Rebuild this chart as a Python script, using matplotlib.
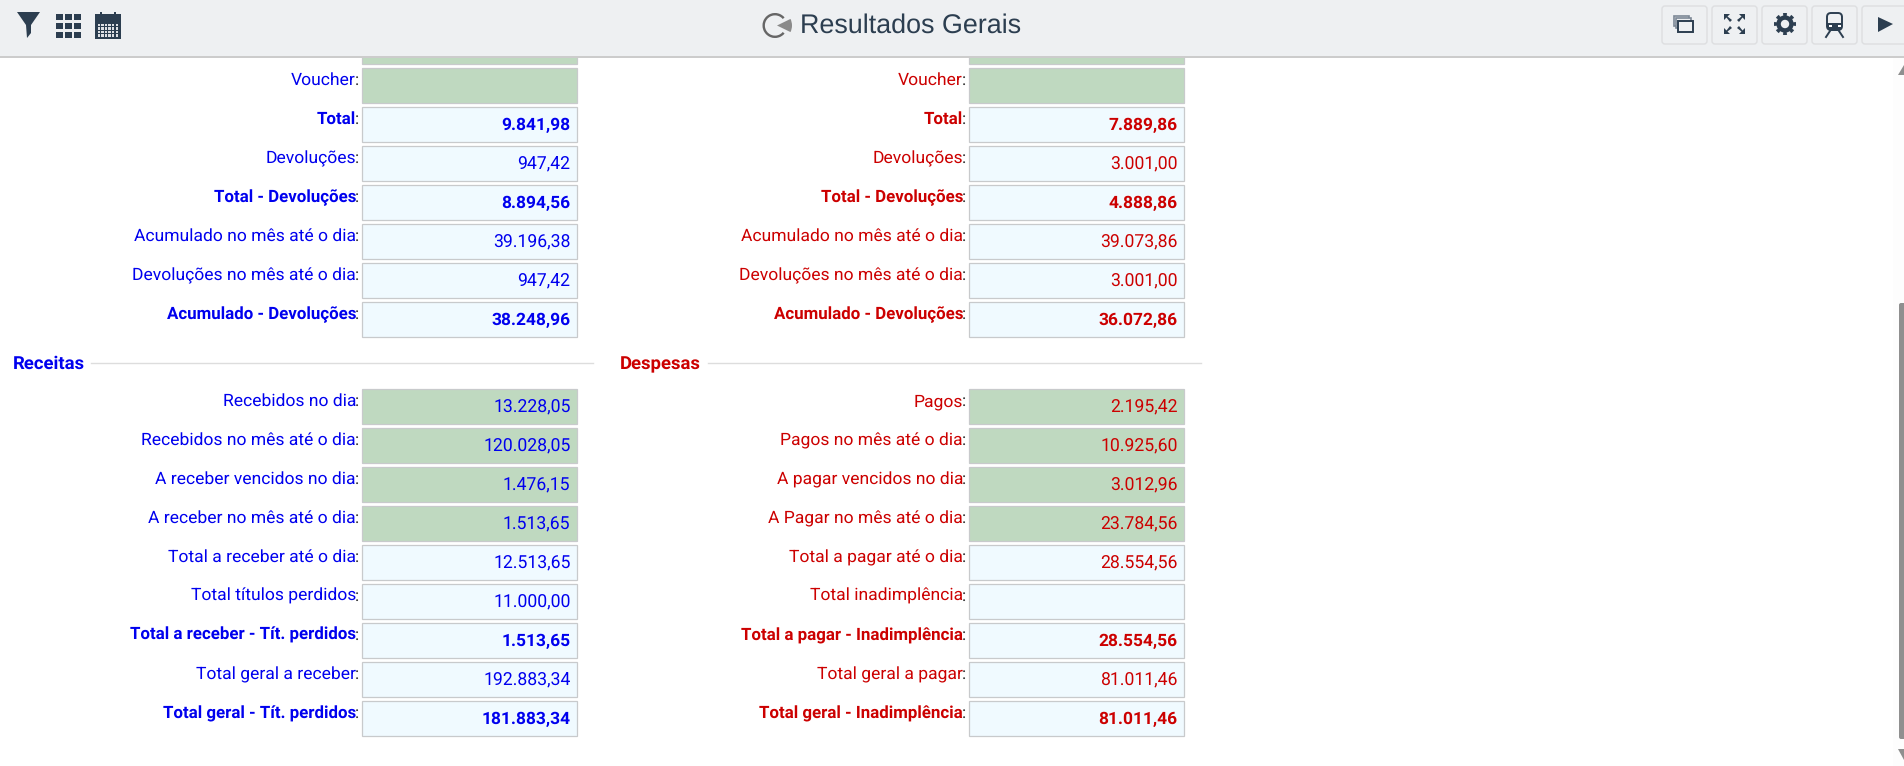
import matplotlib
matplotlib.use('Agg')
import matplotlib.pyplot as plt
from matplotlib.patches import Rectangle, Polygon, Wedge, FancyBboxPatch

plt.rcParams['font.family'] = ['Roboto', 'DejaVu Sans']
plt.rcParams['text.hinting'] = 'no_hinting'

top_labels = ['', 'Voucher', 'Total', 'Devoluções', 'Total - Devoluções',
              'Acumulado no mês até o dia', 'Devoluções no mês até o dia', 'Acumulado - Devoluções']
top_bold = [2, 4, 7]
top_green = [0, 1]
left_top = ['', '', '9.841,98', '947,42', '8.894,56', '39.196,38', '947,42', '38.248,96']
right_top = ['', '', '7.889,86', '3.001,00', '4.888,86', '39.073,86', '3.001,00', '36.072,86']

receitas_labels = ['Recebidos no dia', 'Recebidos no mês até o dia', 'A receber vencidos no dia',
                   'A receber no mês até o dia', 'Total a receber até o dia', 'Total títulos perdidos',
                   'Total a receber - Tít. perdidos', 'Total geral a receber', 'Total geral - Tít. perdidos']
receitas_values = ['13.228,05', '120.028,05', '1.476,15', '1.513,65', '12.513,65', '11.000,00',
                   '1.513,65', '192.883,34', '181.883,34']
despesas_labels = ['Pagos', 'Pagos no mês até o dia', 'A pagar vencidos no dia', 'A Pagar no mês até o dia',
                   'Total a pagar até o dia', 'Total inadimplência', 'Total a pagar - Inadimplência',
                   'Total geral a pagar', 'Total geral - Inadimplência']
despesas_values = ['2.195,42', '10.925,60', '3.012,96', '23.784,56', '28.554,56', '',
                   '28.554,56', '81.011,46', '81.011,46']
bottom_bold = [6, 8]
bottom_green = [0, 1, 2, 3]

BLUE = '#0000EE'
RED = '#CC0000'
DARK = '#2C3E50'
BAR = '#EEF0F2'

fig = plt.figure(figsize=(19.04, 7.66), dpi=100, facecolor='white')
ax = fig.add_axes([0, 0, 1, 1])
ax.set_xlim(0, 1904)
ax.set_ylim(766, 0)
ax.axis('off')


def draw_rows(x_box, labels, values, bold, green, color, y0):
    for i, lab in enumerate(labels):
        y = y0 + i * 39
        fill = '#BFD9C0' if i in green else '#F0FAFF'
        ax.add_patch(Rectangle((x_box, y), 215, 34.5, fc=fill, ec='#C8CACC', lw=0.9))
        is_bold = i in bold
        if lab:
            ax.text(x_box - 3, y + 17, ':', color='#333333', ha='right', va='baseline', fontsize=12.6)
            ax.text(x_box - 6, y + 17, lab, color=color, ha='right', va='baseline',
                    fontsize=12.2 if is_bold else 12.6, fontweight='bold' if is_bold else 'normal')
        if values[i]:
            ax.text(x_box + 208.5, y + 23, values[i], color=color, ha='right', va='baseline',
                    fontsize=12.5 if is_bold else 12.7, fontweight='bold' if is_bold else 'normal')


draw_rows(362, top_labels, left_top, top_bold, top_green, BLUE, 29)
draw_rows(969, top_labels, right_top, top_bold, top_green, RED, 29)
draw_rows(362, receitas_labels, receitas_values, bottom_bold, bottom_green, BLUE, 389)
draw_rows(969, despesas_labels, despesas_values, bottom_bold, bottom_green, RED, 389)

# section headers
ax.text(13, 369, 'Receitas', color=BLUE, fontsize=13.3, fontweight='bold')
ax.plot([91, 593], [363, 363], color='#DDDDDD', lw=1)
ax.text(620, 369, 'Despesas', color=RED, fontsize=13.3, fontweight='bold')
ax.plot([708, 1201], [363, 363], color='#DDDDDD', lw=1)

# top bar
ax.add_patch(Rectangle((0, 0), 1904, 56, fc=BAR, ec='none', zorder=5))
ax.add_patch(Rectangle((0, 56), 1904, 2, fc='#CCCCCC', ec='none', zorder=5))
ax.text(800, 33, 'Resultados Gerais', color=DARK, fontsize=19.4, family='Liberation Sans', zorder=6)

# pie icon
ax.add_patch(Wedge((775, 25.5), 12.5, 40, 320, width=2.4, fc='#666666', ec='none', zorder=6))
ax.add_patch(Wedge((777, 25.5), 15, -26, 26, fc='#8A8A8A', ec='none', zorder=6))

# filter icon
ax.add_patch(Polygon([(17, 12), (40, 12), (31, 25), (31, 33), (27, 38), (26, 25)], fc=DARK, ec='none', zorder=6))
# grid icon
for r in range(3):
    for c in range(3):
        ax.add_patch(Rectangle((56 + c * 9.2, 13.5 + r * 9), 6.6, 6.8, fc=DARK, ec='none', zorder=6))
# calendar icon
ax.add_patch(Rectangle((95, 14), 26, 25, fc=DARK, ec='none', zorder=6))
ax.add_patch(Rectangle((100, 12), 2, 4, fc=DARK, ec='none', zorder=6))
ax.add_patch(Rectangle((114, 12), 2, 4, fc=DARK, ec='none', zorder=6))
for r in range(4):
    for c in range(6):
        ax.add_patch(Rectangle((97.5 + c * 3.6, 24 + r * 3.4), 2.5, 2.3, fc='#DDE0E4', ec='none', zorder=7))

# buttons on the right
for bx in [1662, 1712, 1762, 1812, 1862]:
    ax.add_patch(FancyBboxPatch((bx + 2, 8), 41, 34, boxstyle='round,pad=2,rounding_size=3',
                                fc=BAR, ec='#DDDEE0', lw=1, zorder=6))
# windows
ax.add_patch(Rectangle((1674, 16), 15, 10, fc=BAR, ec='#7C8896', lw=1.2, zorder=7))
ax.add_patch(Rectangle((1676, 18), 15, 10, fc=BAR, ec='#7C8896', lw=1.2, zorder=8))
ax.add_patch(Rectangle((1678, 21), 15, 10.5, fc=BAR, ec=DARK, lw=1.4, zorder=9))
# expand arrows
for px, py, dx, dy in [(1724, 14, 1, 1), (1745, 14, -1, 1), (1724, 34, 1, -1), (1745, 34, -1, -1)]:
    ax.add_patch(Polygon([(px, py), (px + 6 * dx, py), (px + 3.5 * dx, py + 2.5 * dy), (px + 8 * dx, py + 6 * dy),
                          (px + 6 * dx, py + 8 * dy), (px + 2.5 * dx, py + 3.5 * dy), (px, py + 6 * dy)],
                         fc=DARK, ec='none', zorder=7))
# gear
ax.add_patch(Wedge((1785, 24), 8.6, 0, 360, width=4.4, fc=DARK, ec='none', zorder=7))
for ang in range(0, 360, 45):
    ax.add_patch(Wedge((1785, 24), 11, ang - 11, ang + 11, width=3, fc=DARK, ec='none', zorder=7))
# train
ax.add_patch(FancyBboxPatch((1829, 15), 11, 13, boxstyle='round,pad=2,rounding_size=4',
                            fc=BAR, ec=DARK, lw=1.4, zorder=7))
ax.add_patch(Polygon([(1827, 23), (1842, 23), (1842, 28), (1838, 31), (1831, 31), (1827, 28)],
                     fc=DARK, ec='none', zorder=8))
ax.add_patch(Rectangle((1828.5, 25), 3, 1.5, fc='white', ec='none', zorder=9))
ax.add_patch(Rectangle((1837.5, 25), 3, 1.5, fc='white', ec='none', zorder=9))
ax.plot([1830, 1826], [31, 37], color=DARK, lw=1.4, zorder=7)
ax.plot([1839, 1843], [31, 37], color=DARK, lw=1.4, zorder=7)
# play
ax.add_patch(Polygon([(1878, 17), (1893, 24), (1878, 32)], fc=DARK, ec='none', zorder=7))

# scrollbar
ax.add_patch(Rectangle((1893, 58), 11, 708, fc='#FDFDFD', ec='none', zorder=3))
ax.add_patch(FancyBboxPatch((1901, 305), 5, 432, boxstyle='round,pad=2,rounding_size=2',
                            fc='#8F8F8F', ec='none', zorder=4))
ax.add_patch(Polygon([(1898, 75), (1904, 65), (1904, 75)], fc='#8F8F8F', ec='none', zorder=4))
ax.add_patch(Polygon([(1898, 749), (1904, 749), (1904, 760)], fc='#8F8F8F', ec='none', zorder=4))

fig.savefig('out.png', dpi=100)
